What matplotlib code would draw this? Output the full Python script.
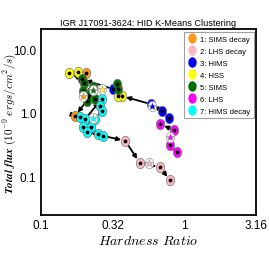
import numpy as np
import matplotlib
matplotlib.use("Agg")
import matplotlib.pyplot as plt
from matplotlib.path import Path

plt.rcParams['font.family'] = ['Liberation Sans Narrow', 'Liberation Sans', 'DejaVu Sans']
plt.rcParams['mathtext.fontset'] = 'cm'

# cluster names and colours
cluster_names = ["1: SIMS decay", "2: LHS decay", "3: HIMS", "4: HSS",
                 "5: SIMS", "6: LHS", "7: HIMS decay"]
cluster_colors = ["#ff9a1a", "#ffb6c1", "#0000ff", "#ffff00",
                  "#007000", "#ff00ff", "#00ffff"]

# observations in time order: hardness ratio, total flux, cluster index (0-based)
hr = [0.891, 0.793, 0.846, 0.683, 0.780, 0.702, 0.587, 0.369, 0.348, 0.348,
      0.340, 0.321, 0.194, 0.159, 0.181, 0.208, 0.201, 0.233, 0.199, 0.221,
      0.214, 0.240, 0.210, 0.174, 0.187, 0.204, 0.267, 0.260, 0.267, 0.240,
      0.199, 0.224, 0.210, 0.253, 0.274, 0.389, 0.489, 0.683, 0.793]
flux = [0.239, 0.31, 0.53, 0.66, 0.81, 1.07, 1.36, 1.82, 1.84, 2.34,
        2.81, 2.34, 3.37, 4.14, 4.30, 4.19, 2.88, 2.49, 2.20, 1.95,
        1.75, 1.63, 1.53, 0.89, 0.84, 0.79, 1.63, 1.28, 1.07, 0.79,
        0.585, 0.585, 0.488, 0.458, 0.43, 0.36, 0.164, 0.137, 0.0865]
cls = [5, 5, 5, 5, 2, 2, 2, 3, 3, 4,
       4, 2, 4, 3, 3, 0, 4, 4, 4, 4,
       0, 4, 4, 0, 6, 6, 6, 6, 6, 6,
       6, 6, 6, 6, 6, 1, 1, 1, 1]

# cluster centroids (same order as cluster_names)
cent_hr = [0.196, 0.565, 0.600, 0.267, 0.232, 0.802, 0.232]
cent_flux = [1.85, 0.164, 1.27, 2.34, 2.29, 0.41, 0.82]

# slightly tall oval marker
t = np.linspace(0, 2 * np.pi, 40)
oval = Path(np.column_stack([np.cos(t), 1.25 * np.sin(t)]), closed=True)

fig = plt.figure(figsize=(2.69, 2.55), dpi=100)
ax = fig.add_subplot(111)
fig.subplots_adjust(left=0.1506, right=0.9517, top=0.8804, bottom=0.1529)

for i in range(len(hr) - 1):
    ax.annotate("", xy=(hr[i + 1], flux[i + 1]), xytext=(hr[i], flux[i]),
                arrowprops=dict(arrowstyle='-|>', color='k', lw=1.3,
                                mutation_scale=6, shrinkA=0, shrinkB=3),
                zorder=1)

for k, (name, col) in enumerate(zip(cluster_names, cluster_colors)):
    xs = [h for h, c in zip(hr, cls) if c == k]
    ys = [f for f, c in zip(flux, cls) if c == k]
    ax.plot(xs, ys, linestyle='none', marker=oval, markersize=7.5,
            markerfacecolor=col, markeredgecolor='#777777', markeredgewidth=0.5,
            zorder=2, label=name)
    ax.plot(xs, ys, linestyle='none', marker='*', markersize=2.5,
            color='k', zorder=3)
    ax.plot(cent_hr[k], cent_flux[k], linestyle='none', marker=oval, markersize=7.5,
            markerfacecolor='white', markeredgecolor='#999999', markeredgewidth=0.5,
            zorder=4)
    ax.plot(cent_hr[k], cent_flux[k], linestyle='none', marker='*', markersize=6,
            markerfacecolor=col, markeredgecolor='#999999', markeredgewidth=0.4,
            zorder=5)

ax.set_xscale('log')
ax.set_yscale('log')
ax.set_xlim(0.1, 3.16)
ax.set_ylim(0.0245, 20.3)
ax.set_xticks([0.1, 0.32, 1, 3.16])
ax.set_xticklabels(["0.1", "0.32", "1", "3.16"])
ax.set_yticks([0.1, 1, 10])
ax.set_yticklabels(["0.1", "1.0", "10.0"])
ax.minorticks_off()
ax.tick_params(length=0, labelsize=8.5, pad=3)
for s in ax.spines.values():
    s.set_linewidth(1.3)

ax.set_title("IGR J17091-3624: HID K-Means Clustering", fontsize=6.6, pad=3)
ax.set_xlabel(r"$Hardness\ Ratio$", fontsize=10, labelpad=1)
ax.set_ylabel(r"$\mathbfit{Total\ flux}\ (10^{-9}\ ergs/cm^2/s)$", fontsize=8)
ax.yaxis.set_label_coords(-0.105, 0.5)

leg = ax.legend(loc='upper right', fontsize=5.5, frameon=True, fancybox=False,
                edgecolor='#888888', borderpad=0.5, labelspacing=0.6,
                handletextpad=0.4, handlelength=1.2, borderaxespad=0.3)
leg.get_frame().set_linewidth(0.8)
for h in leg.legend_handles:
    h.set_markeredgewidth(0)

fig.savefig("out.png", dpi=100)
